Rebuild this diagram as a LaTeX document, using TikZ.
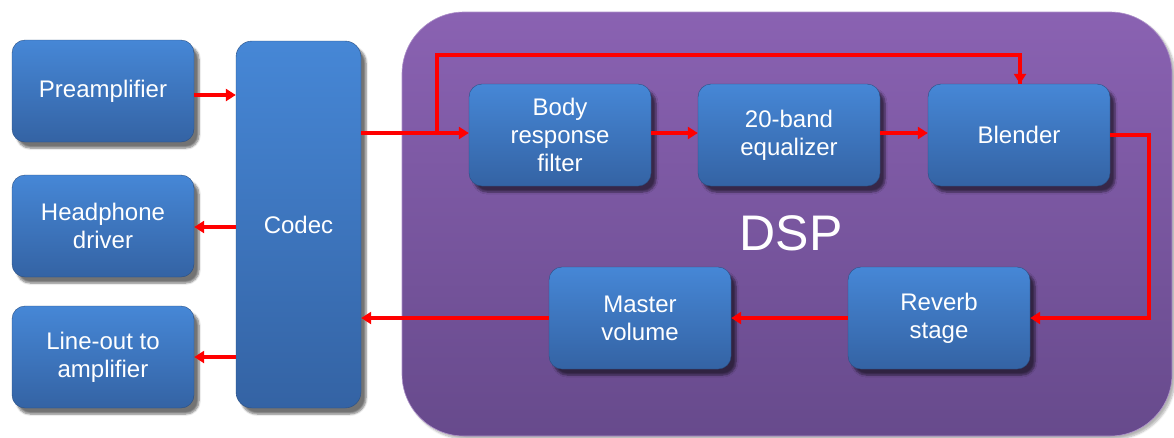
\documentclass[tikz,border=0pt]{standalone}
\usepackage{fontspec}
\setmainfont{Liberation Sans}
\usetikzlibrary{arrows.meta,shadows.blur}
\definecolor{bluetop}{HTML}{4687D6}
\definecolor{bluebot}{HTML}{3463A4}
\definecolor{purptop}{HTML}{8A62B2}
\definecolor{purpbot}{HTML}{674A8C}
\definecolor{arrred}{HTML}{FF0000}
\tikzset{
  blk/.style={rectangle, rounded corners=13pt, top color=bluetop, bottom color=bluebot,
    draw=bluebot!80!black, line width=0.4pt, text=white, align=center,
    font=\fontsize{24}{28}\selectfont, minimum width=182pt, minimum height=102pt,
    inner sep=2pt, blur shadow={shadow xshift=5pt, shadow yshift=-6pt, shadow blur steps=6, shadow opacity=55}},
  sig/.style={draw=arrred, line width=3.2pt, -{Triangle[length=10pt,width=12pt]}},
  wire/.style={draw=arrred, line width=3.2pt}
}
\begin{document}
\begin{tikzpicture}[x=1pt,y=-1pt]
\useasboundingbox (0,0) rectangle (1174,437);
% DSP background
\node[rectangle, rounded corners=62pt, top color=purptop, bottom color=purpbot,
  draw=purptop!70!white, line width=0.6pt, minimum width=770pt, minimum height=424pt,
  blur shadow={shadow xshift=3pt, shadow yshift=-3pt, shadow blur steps=6, shadow opacity=30}]
  (dsp) at (787,224) {};
\node[text=white, font=\fontsize{50}{50}\selectfont] (dsplabel) at (791,233) {DSP};

\node[blk] (pre) at (103,91) {Preamplifier};
\node[blk] (hp) at (103,226) {Headphone\\driver};
\node[blk] (lo) at (103,357) {Line-out to\\amplifier};
\node[blk, minimum width=125pt, minimum height=367pt, rounded corners=16pt] (codec) at (298.5,224.5) {Codec};

\node[blk] (body) at (560,135) {Body\\response\\filter};
\node[blk] (eq) at (789,135) {20-band\\equalizer};
\node[blk] (blend) at (1019,135) {Blender};
\node[blk] (rev) at (939,318) {Reverb\\stage};
\node[blk] (mv) at (640,318) {Master\\volume};

\coordinate (br) at (437,133);
\coordinate (ctop) at (437,55);
\coordinate (bx) at (1149,135);

\draw[sig] ([yshift=-4pt]pre.east) -- ([yshift=-4pt]pre.east -| codec.west);
\draw[sig] ([yshift=-1pt]codec.west |- hp.east) -- ([yshift=-1pt]hp.east);
\draw[sig] ([yshift=0pt]codec.west |- lo.east) -- ([yshift=0pt]lo.east);
\draw[sig] ([yshift=2pt]codec.east |- body.west) -- ([yshift=2pt]body.west);
\draw[wire] (br) -- (ctop) -| ([xshift=1pt]blend.north);
\draw[sig] (ctop -| blend.north) ++(1,0) -- ([xshift=1pt]blend.north);
\draw[sig] ([yshift=2pt]body.east) -- ([yshift=2pt]eq.west);
\draw[sig] ([yshift=2pt]eq.east) -- ([yshift=2pt]blend.west);
\draw[sig] (blend.east) -| (bx) |- (rev.east);
\draw[sig] (rev.west) -- (mv.east);
\draw[sig] (mv.west) -- (mv.west -| codec.east);
\end{tikzpicture}
\end{document}
